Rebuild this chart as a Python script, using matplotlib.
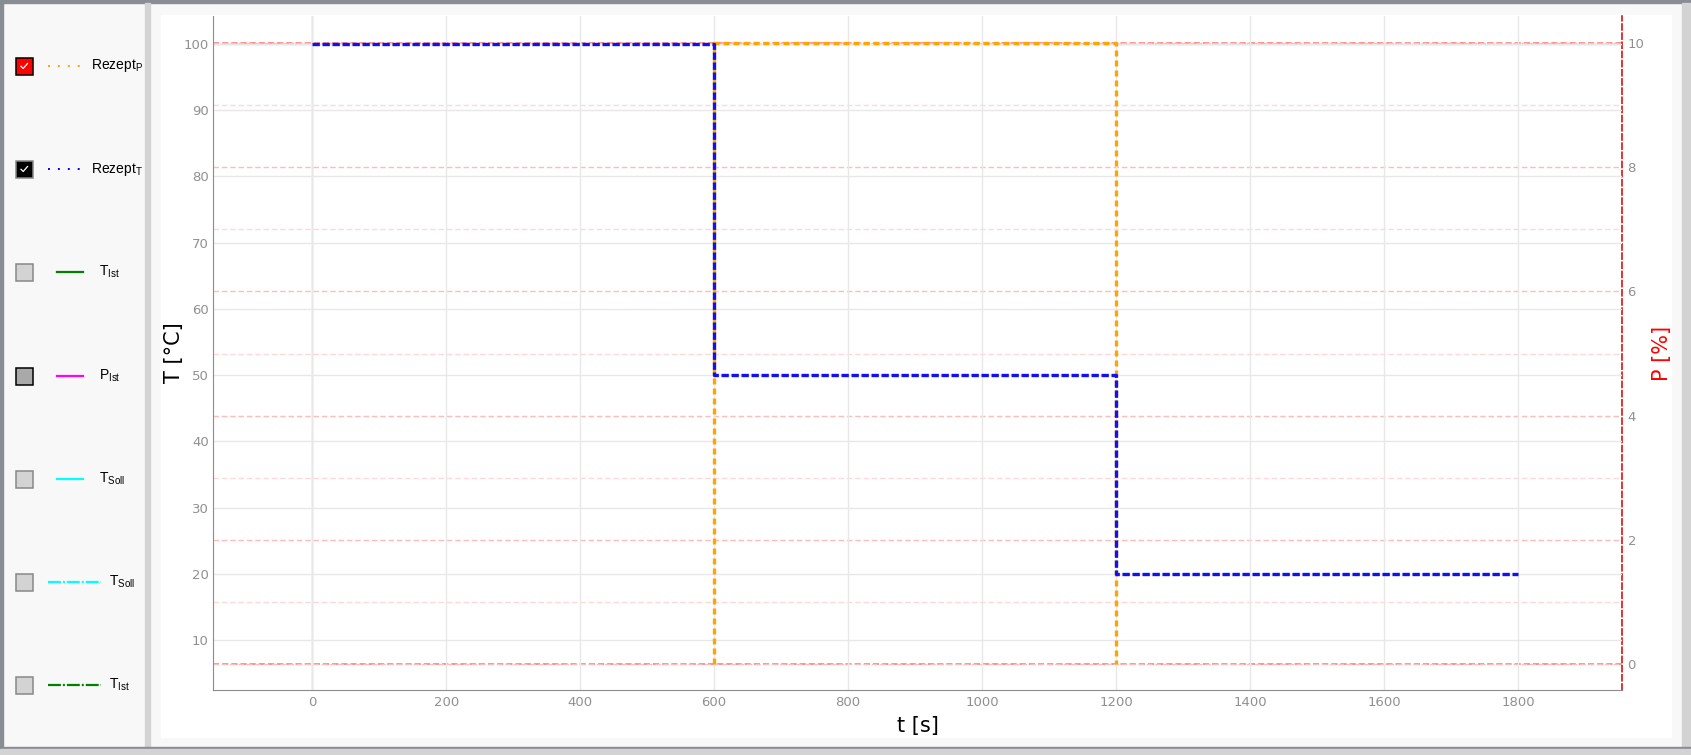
import matplotlib
matplotlib.use("Agg")
import matplotlib.pyplot as plt
from matplotlib.patches import Rectangle

# ---------------- DATA ---------------- #
t_rezept_T = [0, 600, 600, 1200, 1200, 1800]
T_rezept = [100, 100, 50, 50, 20, 20]

t_rezept_P = [600, 600, 1200, 1200]
P_rezept = [0, 10, 10, 0]

x_ticks = [0, 200, 400, 600, 800, 1000, 1200, 1400, 1600, 1800]
T_ticks = [10, 20, 30, 40, 50, 60, 70, 80, 90, 100]
P_ticks = [0, 2, 4, 6, 8, 10]
P_minor = [1, 3, 5, 7, 9]

legend_labels = [r"Rezept$_\mathregular{P}$", r"Rezept$_\mathregular{T}$",
                 r"T$_\mathregular{Ist}$", r"P$_\mathregular{Ist}$",
                 r"T$_\mathregular{Soll}$", r"T$_\mathregular{Soll}$",
                 r"T$_\mathregular{Ist}$"]
legend_colors = ["orange", "blue", "green", "magenta", "cyan", "cyan", "green"]
legend_styles = ["dotted", "dotted", "solid", "solid", "solid", "dashdot", "dashdot"]
legend_checked = [True, True, False, False, False, False, False]
box_faces = ["red", "black", "#d3d3d3", "#a9a9a9", "#d3d3d3", "#d3d3d3", "#d3d3d3"]
box_edges = ["black", "#888888", "#888888", "black", "#888888", "#888888", "#888888"]

W, H = 1691, 755
fig = plt.figure(figsize=(W / 100, H / 100), dpi=100)
fig.patch.set_facecolor("#f8f8f8")

# ---------------- BACKGROUND PANELS (pixel coords) ---------------- #
bg = fig.add_axes([0, 0, 1, 1], zorder=-5)
bg.set_xlim(0, W)
bg.set_ylim(H, 0)
bg.axis("off")
bg.add_patch(Rectangle((0, 0), W, 3, color="#8a8c94"))
bg.add_patch(Rectangle((0, 0), 3, 748, color="#8a8c94"))
bg.add_patch(Rectangle((145, 3), 5, 745, color="#d3d3d3"))
bg.add_patch(Rectangle((161, 15), 1510, 722, color="white"))
bg.add_patch(Rectangle((1682, 3), 9, 745, color="#d3d3d3"))
bg.add_patch(Rectangle((0, 747), W, 2, color="#8a8c94"))
bg.add_patch(Rectangle((0, 749), W, 6, color="#d3d3d3"))

# ---------------- LEGEND PANEL ---------------- #
row_y = [66, 169, 272, 376, 479, 582, 685]
for i, lab in enumerate(legend_labels):
    y = row_y[i]
    bg.add_patch(Rectangle((15.5, y - 8.5), 17, 17, facecolor=box_faces[i],
                           edgecolor=box_edges[i], lw=1.1))
    if legend_checked[i]:
        bg.plot([21, 23.2, 27.5], [y + 0.3, y + 2.5, y - 2.5], color="white", lw=0.9)
    st = legend_styles[i]
    if st == "dotted":
        bg.plot([48, 81], [y, y], color=legend_colors[i], lw=1.4,
                linestyle=(0, (1, 4.1)))
        tx = 91
    elif st == "solid":
        bg.plot([57, 83], [y, y], color=legend_colors[i], lw=1.6)
        tx = 99
    else:
        bg.plot([48, 101], [y, y], color=legend_colors[i], lw=1.6,
                linestyle=(0, (5.8, 0.9, 0.9, 0.9)))
        tx = 109
    bg.text(tx, y, lab, fontsize=10, family="Liberation Sans",
            va="center", ha="left", color="black")

# ---------------- MAIN PLOT ---------------- #
ax = fig.add_axes([213 / W, 1 - 690 / H, (1622 - 213) / W, (690 - 16) / H])
ax2 = ax.twinx()
ax.set_zorder(2)
ax.patch.set_visible(False)
ax2.set_zorder(1)
ax2.patch.set_visible(False)

# grid
ax.set_xticks(x_ticks)
ax.set_yticks(T_ticks)
ax.grid(True, color="#e8e8e8", lw=1, linestyle="-")
ax.set_axisbelow(True)
ax.axvline(0, color="#c8c8c8", lw=1, zorder=0.5)
ax.axhline(100, color="#c0c0c0", lw=1, zorder=0.5)

ax2.set_yticks(P_ticks)
ax2.set_yticks(P_minor, minor=True)
ax2.grid(True, which="major", color="#ffbcbc", lw=1, linestyle=(0, (4, 2)))
ax2.grid(True, which="minor", color="#ffd8d8", lw=1, linestyle=(0, (4, 2)))
ax2.axhline(0, color="#ff7070", lw=1.1, linestyle=(0, (4, 2)), zorder=0.6)
ax2.axhline(10, color="#ff7070", lw=1.1, linestyle=(0, (4, 2)), zorder=0.6)

# data lines (P line lives on the top axes but uses the P scale)
ax.plot(t_rezept_P, P_rezept, color="orange", lw=2.4,
        linestyle=(0, (1.8, 1.2)), zorder=3, transform=ax2.transData)
ax.plot(t_rezept_T, T_rezept, color="#1010f0", lw=2.4,
        linestyle=(0, (2.2, 0.8)), zorder=4)

ax.set_xlim(-148, 1955)
ax.set_ylim(2.45, 104.2)
ax2.set_ylim(-0.413, 10.43)

# spines
for a in (ax, ax2):
    a.spines["top"].set_visible(False)
ax.spines["right"].set_visible(False)
ax.spines["left"].set_color("#8c8c8c")
ax.spines["bottom"].set_color("#8c8c8c")
ax2.spines["left"].set_visible(False)
ax2.spines["bottom"].set_visible(False)
ax2.spines["right"].set_color("#d40000")
ax2.spines["right"].set_linestyle((0, (4, 2)))
ax2.spines["right"].set_linewidth(1.1)

ax.tick_params(axis="x", length=0, labelsize=9.5, labelcolor="#909090", pad=4)
ax.tick_params(axis="y", length=0, labelsize=9.5, labelcolor="#909090", pad=3)
ax2.tick_params(axis="y", which="both", length=0, labelsize=9.5,
                labelcolor="#909090", pad=4)

ax.set_xlabel("t [s]", fontsize=15)
ax.set_ylabel("T [°C]", fontsize=15)
ax2.set_ylabel("P [%]", fontsize=15, color="red")
ax.xaxis.set_label_coords(0.5, -0.039)
ax.yaxis.set_label_coords(-0.0206, 0.5)
ax2.yaxis.set_label_coords(1.0213, 0.5)

plt.savefig("out.png", dpi=100, facecolor=fig.get_facecolor())
plt.close()
